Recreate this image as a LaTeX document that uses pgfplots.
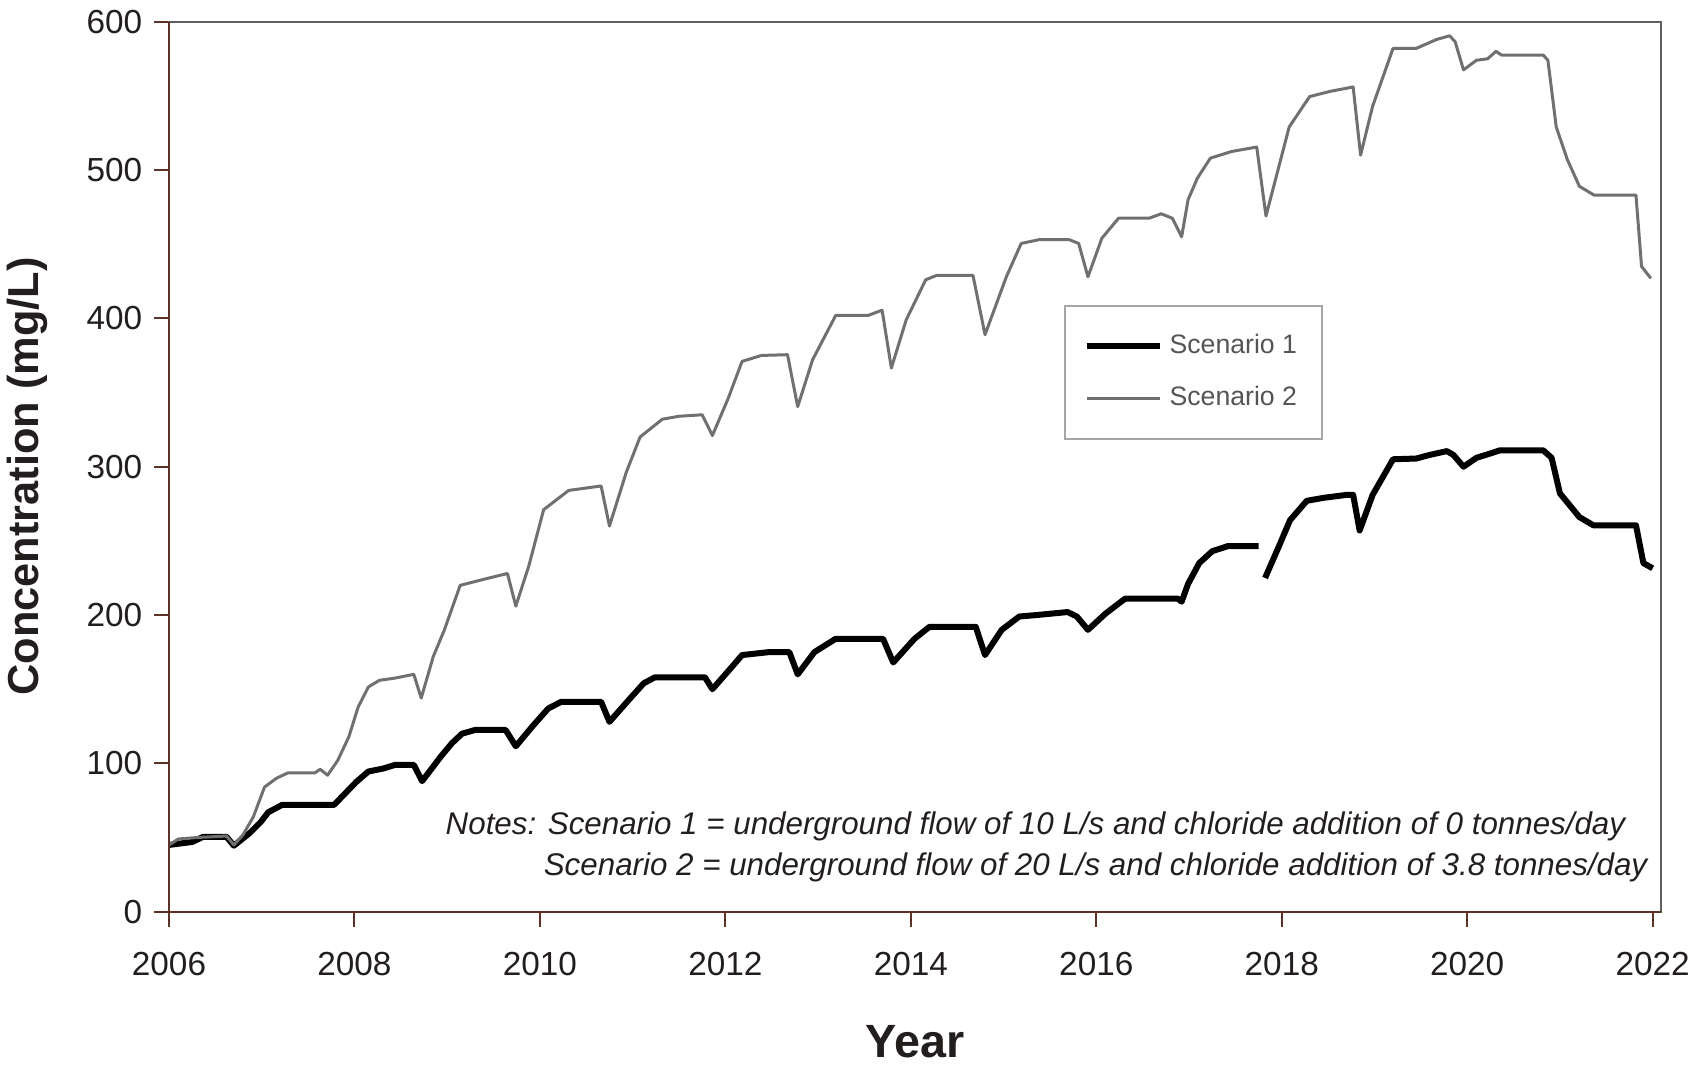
\documentclass[border=0pt]{standalone}
\usepackage{fontspec}
\setmainfont{Liberation Sans}
\usepackage{pgfplots}
\pgfplotsset{compat=1.18}
\definecolor{axbrown}{RGB}{95,50,40}
\definecolor{framegray}{RGB}{95,95,95}
\definecolor{sgray}{RGB}{112,112,112}
\definecolor{legtext}{RGB}{85,85,85}
\definecolor{labblack}{RGB}{35,30,30}
\begin{document}
\begin{tikzpicture}
\useasboundingbox (-50.7pt,-46.3pt) rectangle (457.5pt,273.5pt);
\begin{axis}[
  at={(0,0)}, anchor=south west,
  scale only axis, width=447.6pt, height=267pt,
  xmin=2006, xmax=2022.09, ymin=0, ymax=600,
  xtick={2006,2008,...,2022}, ytick={0,100,...,600},
  xtick pos=bottom, ytick pos=left, tick align=outside,
  major tick length=4.5pt,
  every tick/.style={axbrown, line width=0.6pt},
  axis line style={framegray, line width=0.7pt},
  /pgf/number format/1000 sep={},
  /pgf/number format/assume math mode=true,
  tick label style={font=\fontsize{10}{12}\selectfont, color=labblack},
  xticklabel style={yshift=-4pt},
  xlabel={Year},
  xlabel style={at={(axis description cs:0.5,-0.1275)}, anchor=north, inner sep=0pt, font=\bfseries\fontsize{14}{16}\selectfont, color=labblack},
  ylabel={Concentration (mg/L)},
  ylabel style={at={(axis description cs:-0.0952,0.489)}, anchor=center, font=\bfseries\fontsize{13}{15}\selectfont, color=labblack},
  unbounded coords=jump,
  clip=false,
  legend style={at={(axis description cs:0.600,0.682)}, anchor=north west, draw=gray!70, line width=0.6pt, font=\fontsize{8}{10}\selectfont, text=legtext, inner xsep=5.5pt, inner ysep=6.5pt, row sep=4.3pt, cells={anchor=west}},
  legend image code/.code={\draw[#1] (0pt,0pt) -- (20pt,0pt); \path (0pt,0pt) -- (22pt,0pt);},
]
\addplot[black, line width=1.8pt, line join=round] coordinates {
(2006.00,45) (2006.25,47) (2006.37,50.5) (2006.62,50.5) (2006.70,44.5) (2006.87,53) (2006.99,60.5) (2007.07,67) (2007.22,72) (2007.78,72)
(2008.02,87.5) (2008.15,94.5) (2008.31,96.5) (2008.44,99) (2008.64,99) (2008.73,88) (2008.93,104.5) (2009.05,113.5) (2009.16,120) (2009.30,122.5)
(2009.63,122.5) (2009.74,111.5) (2009.92,125) (2010.09,137) (2010.23,141.5) (2010.66,141.5) (2010.75,128) (2010.99,145) (2011.12,154) (2011.24,158)
(2011.78,158) (2011.86,150) (2012.07,165) (2012.18,173) (2012.47,175) (2012.69,175) (2012.78,160) (2012.96,175) (2013.19,184) (2013.70,184)
(2013.81,168) (2014.04,184) (2014.20,192) (2014.70,192) (2014.80,173) (2014.98,190) (2015.17,199) (2015.36,200) (2015.69,202) (2015.79,199)
(2015.91,190) (2016.10,201) (2016.31,211) (2016.88,211) (2016.92,209) (2016.99,221) (2017.11,235) (2017.25,243) (2017.42,246.5) (2017.75,246.5)
(2017.79,nan)
(2017.82,225) (2017.96,245) (2018.09,264) (2018.27,277) (2018.45,279) (2018.70,281) (2018.77,281) (2018.84,257) (2018.98,281) (2019.20,305)
(2019.45,305.5) (2019.60,308) (2019.78,310.5) (2019.85,308) (2019.96,300) (2020.10,306) (2020.28,309.5) (2020.35,311) (2020.82,311) (2020.91,306)
(2021.00,282) (2021.21,266) (2021.36,260.5) (2021.82,260.5) (2021.90,235) (2022.00,231.5)
};
\addlegendentry{Scenario 1}
\addplot[sgray, line width=0.9pt, line join=round] coordinates {
(2006.00,45) (2006.10,49) (2006.30,50) (2006.62,51) (2006.70,45) (2006.80,52) (2006.91,64) (2007.03,84) (2007.16,90) (2007.28,93.5)
(2007.57,93.5) (2007.63,96) (2007.71,92) (2007.82,102) (2007.94,118) (2008.04,138) (2008.15,151.5) (2008.27,156) (2008.44,157.5) (2008.64,160)
(2008.72,144) (2008.85,172) (2008.97,190) (2009.14,220) (2009.39,224) (2009.65,228) (2009.74,206) (2009.88,233) (2010.04,271) (2010.31,284)
(2010.66,287) (2010.75,260) (2010.93,296) (2011.08,320) (2011.32,332) (2011.50,334) (2011.75,335) (2011.86,321) (2012.03,346) (2012.18,371)
(2012.39,375) (2012.67,375.5) (2012.78,340.5) (2012.94,372) (2013.19,402) (2013.54,402) (2013.69,405.5) (2013.79,366.5) (2013.95,399) (2014.16,426)
(2014.28,429) (2014.67,429) (2014.80,389) (2015.03,428) (2015.19,450.5) (2015.38,453) (2015.71,453) (2015.81,450.5) (2015.91,428) (2016.06,454)
(2016.24,467.5) (2016.57,467.5) (2016.70,470.5) (2016.82,467.5) (2016.92,455) (2016.99,480) (2017.09,494.5) (2017.23,508) (2017.46,512.5) (2017.73,515.5)
(2017.83,469) (2018.08,529) (2018.30,549.5) (2018.52,553) (2018.77,556) (2018.85,510) (2018.98,543) (2019.20,582) (2019.45,582) (2019.67,588)
(2019.81,590.5) (2019.87,586.5) (2019.96,567.5) (2020.10,574) (2020.22,575) (2020.31,580) (2020.37,577.5) (2020.82,577.5) (2020.87,574) (2020.96,529)
(2021.08,507) (2021.21,489) (2021.37,483) (2021.82,483) (2021.88,435) (2021.98,427)
};
\addlegendentry{Scenario 2}
\draw[axbrown, line width=0.7pt] (axis description cs:0,1) -- (axis description cs:0,0) -- (axis description cs:1,0);
\node[anchor=east, inner sep=0pt, font=\itshape\fontsize{9.4}{11}\selectfont, color=labblack] at (axis description cs:0.9765,0.0959) {Notes: Scenario 1 = underground flow of 10 L/s and chloride addition of 0 tonnes/day};
\node[anchor=east, inner sep=0pt, font=\itshape\fontsize{9.4}{11}\selectfont, color=labblack] at (axis description cs:0.9913,0.0498) {Scenario 2 = underground flow of 20 L/s and chloride addition of 3.8 tonnes/day};
\end{axis}
\end{tikzpicture}
\end{document}
